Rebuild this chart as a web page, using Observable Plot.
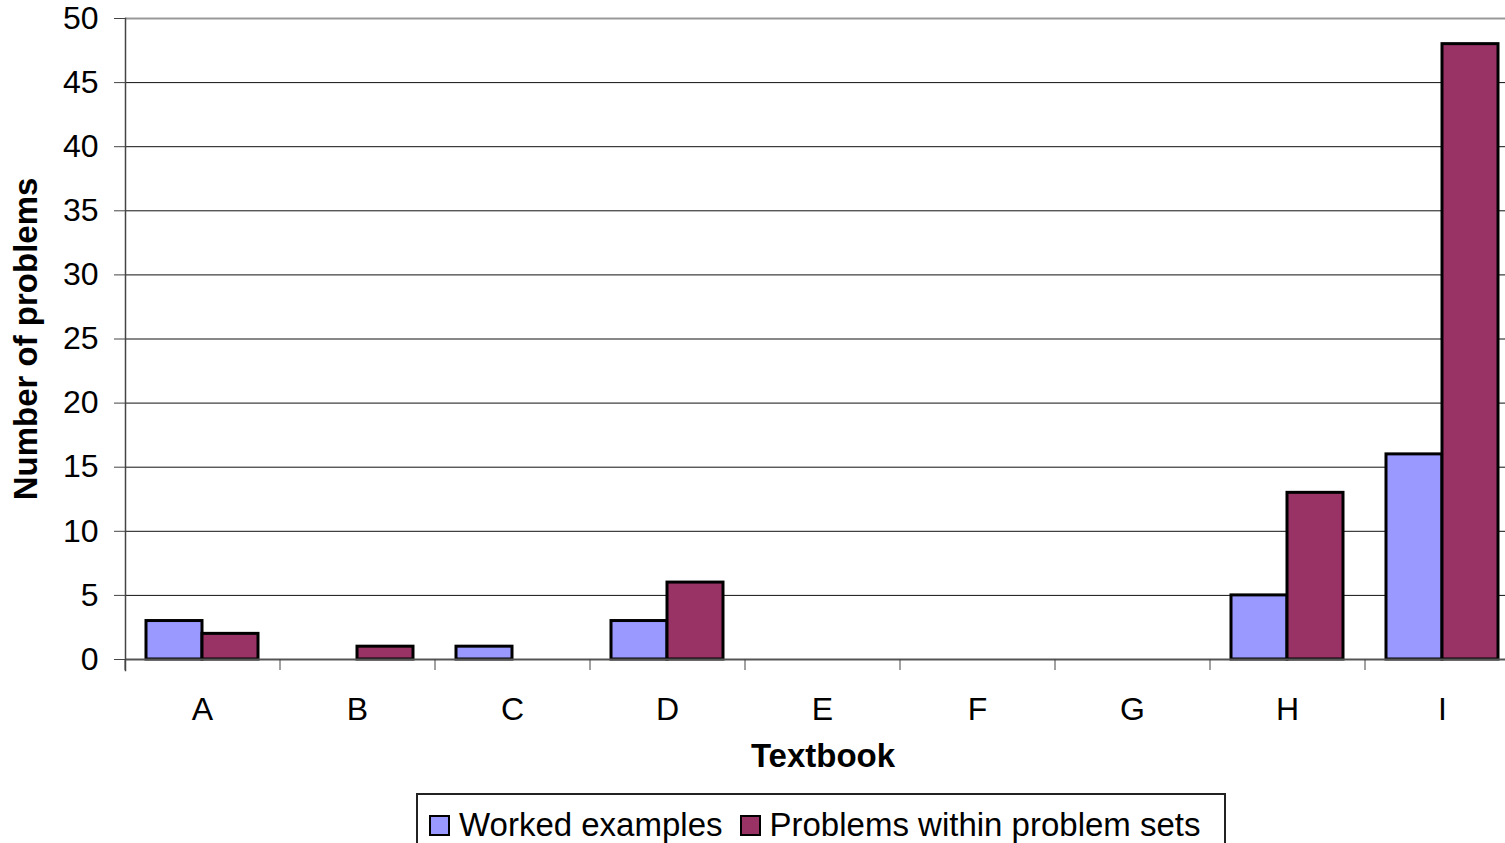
<!DOCTYPE html>
<html><head><meta charset="utf-8">
<script src="https://cdn.jsdelivr.net/npm/d3@7"></script>
<script src="https://cdn.jsdelivr.net/npm/@observablehq/plot@0.6"></script>
<style>
html,body{margin:0;padding:0;overflow:hidden;background:#fff;width:1505px;height:843px;}
#chart{position:absolute;left:0;top:0;width:1520px;}
#chart svg{display:block;max-width:none !important;}
#legend{position:absolute;left:416px;top:793px;width:810px;height:70px;border:2px solid #222;
  font-family:'Liberation Sans',Arial,sans-serif;font-size:33px;color:#000;display:flex;
  padding:12px 0 0 11px;box-sizing:border-box;align-items:flex-start;}
#legend .sw{display:inline-block;width:17px;height:17px;border:2px solid #000;margin-top:8px;margin-right:9px;}
#legend .lab{margin-right:17px;line-height:36px;}
</style></head><body>
<div id="chart"></div>
<div id="legend"></div>
<script>
const textbooks = ["A", "B", "C", "D", "E", "F", "G", "H", "I"];
const workedExamples = [3, 0, 1, 3, 0, 0, 0, 5, 16];
const problemSets = [2, 1, 0, 6, 0, 0, 0, 13, 48];
const seriesNames = ["Worked examples", "Problems within problem sets"];
const seriesColors = ["#9999FF", "#993366"];
const yTicks = [0, 5, 10, 15, 20, 25, 30, 35, 40, 45, 50];
const xTitle = "Textbook";
const yTitle = "Number of problems";

const rows = textbooks.flatMap((t, i) => [
  {textbook: t, series: seriesNames[0], value: workedExamples[i]},
  {textbook: t, series: seriesNames[1], value: problemSets[i]}
]);
const rowsW = rows.filter(d => d.series === seriesNames[0] && d.value > 0);
const rowsP = rows.filter(d => d.series === seriesNames[1] && d.value > 0);

const plot = Plot.plot({
  width: 1520, height: 790,
  marginLeft: 125, marginRight: 0, marginTop: 18, marginBottom: 131,
  style: {fontFamily: "'Liberation Sans', Arial, sans-serif", fontSize: "32px", color: "#000", background: "#fff", overflow: "visible", maxWidth: "none"},
  x: {domain: textbooks, paddingInner: 0.277, paddingOuter: 0.1385, axis: null, label: null},
  y: {domain: [0, 50], axis: null, label: null},
  marks: [
    Plot.ruleY(yTicks.filter(v => v > 0 && v < 50), {stroke: "#111", strokeWidth: 1}),
    Plot.ruleY([50], {stroke: "#999", strokeWidth: 2}),
    Plot.barY(rowsW, {x: "textbook", y: "value", fill: seriesColors[0], stroke: "#000", strokeWidth: 3, insetRight: 56}),
    Plot.barY(rowsP, {x: "textbook", y: "value", fill: seriesColors[1], stroke: "#000", strokeWidth: 3, insetLeft: 56}),
    Plot.ruleY([0], {stroke: "#555", strokeWidth: 2}),
    Plot.axisY({ticks: yTicks, tickSize: 11, tickPadding: 16, stroke: "#444", label: null}),
    Plot.axisX({tickSize: 0, tickPadding: 38, label: null}),
    Plot.axisX({tickSize: 11, tickFormat: () => "", dx: -77.5, stroke: "#444", label: null}),
    Plot.frame({anchor: "left", insetBottom: -11, stroke: "#444", strokeWidth: 1.5}),
    Plot.text([xTitle], {text: d => d, frameAnchor: "bottom", lineAnchor: "middle", textAnchor: "middle", dy: 97, fontWeight: "bold", fontSize: 33}),
    Plot.text([yTitle], {text: d => d, frameAnchor: "left", textAnchor: "middle", lineAnchor: "middle", rotate: -90, dx: -99, fontWeight: "bold", fontSize: 33})
  ]
});
document.getElementById("chart").appendChild(plot);

const legend = document.getElementById("legend");
seriesNames.forEach((name, i) => {
  const sw = document.createElement("span");
  sw.className = "sw";
  sw.style.background = seriesColors[i];
  const lab = document.createElement("span");
  lab.className = "lab";
  lab.textContent = name;
  legend.appendChild(sw);
  legend.appendChild(lab);
});
</script>
</body></html>
